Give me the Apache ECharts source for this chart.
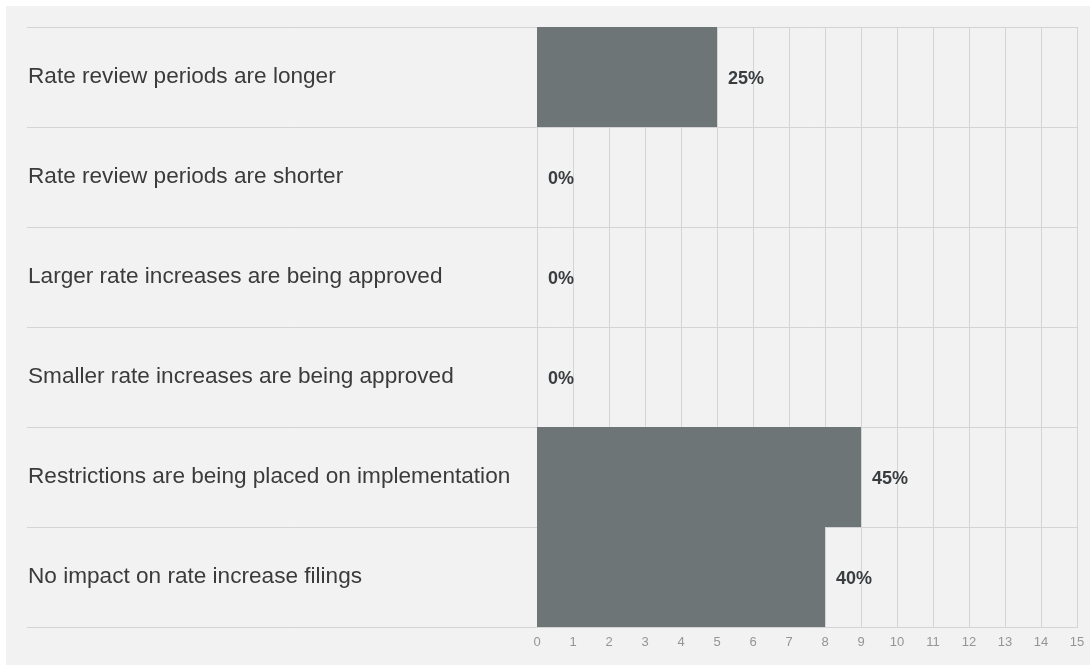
<!DOCTYPE html>
<html>
<head>
<meta charset="utf-8">
<title>Impact on rate increase filings</title>
<script src="https://cdn.jsdelivr.net/npm/echarts@6/dist/echarts.min.js"></script>
<style>
  html, body { margin: 0; padding: 0; background: #ffffff; }
  #chart { position: absolute; left: 6px; top: 6px; width: 1084px; height: 659px; background: #f2f2f2; }
</style>
</head>
<body>
<div id="chart"></div>
<script>
// Survey answers, top to bottom
const categories = [
  'Rate review periods are longer',
  'Rate review periods are shorter',
  'Larger rate increases are being approved',
  'Smaller rate increases are being approved',
  'Restrictions are being placed on implementation',
  'No impact on rate increase filings'
];
// Number of respondents choosing each answer
const counts = [5, 0, 0, 0, 9, 8];
// Total respondents (answers could be combined, so shares exceed 100% in sum)
const respondents = 20;
// Count axis
const axisMin = 0;
const axisMax = 15;
const axisStep = 1;

const chart = echarts.init(document.getElementById('chart'), null, { renderer: 'canvas' });

chart.setOption({
  backgroundColor: '#f2f2f2',
  animation: false,
  textStyle: { fontFamily: 'Liberation Sans, Arial, sans-serif' },
  grid: [
    // bars
    { left: 531, right: 13, top: 21, bottom: 38 },
    // full-width row separators and answer labels
    { left: 21, right: 12, top: 21, bottom: 38 }
  ],
  xAxis: [
    {
      gridIndex: 0,
      type: 'value',
      min: axisMin,
      max: axisMax,
      interval: axisStep,
      axisLine: { show: false },
      axisTick: { show: false },
      axisLabel: { color: '#959595', fontSize: 13, margin: 9 },
      splitLine: { show: true, lineStyle: { color: '#d4d4d4', width: 1 } }
    },
    {
      gridIndex: 1,
      type: 'value',
      show: false
    }
  ],
  yAxis: [
    {
      gridIndex: 0,
      type: 'category',
      data: categories,
      inverse: true,
      axisLine: { show: false },
      axisTick: { show: false },
      axisLabel: { show: false },
      splitLine: { show: false }
    },
    {
      gridIndex: 1,
      type: 'category',
      data: categories,
      inverse: true,
      axisLine: { show: false },
      axisTick: { show: false },
      axisLabel: {
        inside: true,
        margin: 1,
        align: 'left',
        color: '#3b3b3b',
        fontSize: 22.6,
        lineHeight: 30,
        verticalAlign: 'middle',
        padding: [4, 0, 0, 0]
      },
      splitLine: { show: true, lineStyle: { color: '#d4d4d4', width: 1 } }
    }
  ],
  series: [
    {
      type: 'bar',
      xAxisIndex: 0,
      yAxisIndex: 0,
      data: counts,
      barWidth: '100%',
      barCategoryGap: 0,
      itemStyle: { color: '#6e7576' },
      label: {
        show: true,
        position: 'right',
        distance: 11,
        offset: [0, 2],
        color: '#3a3d40',
        fontSize: 18,
        fontWeight: 'bold',
        formatter: p => Math.round(p.value / respondents * 100) + '%'
      },
      z: 3
    }
  ]
});
</script>
</body>
</html>
